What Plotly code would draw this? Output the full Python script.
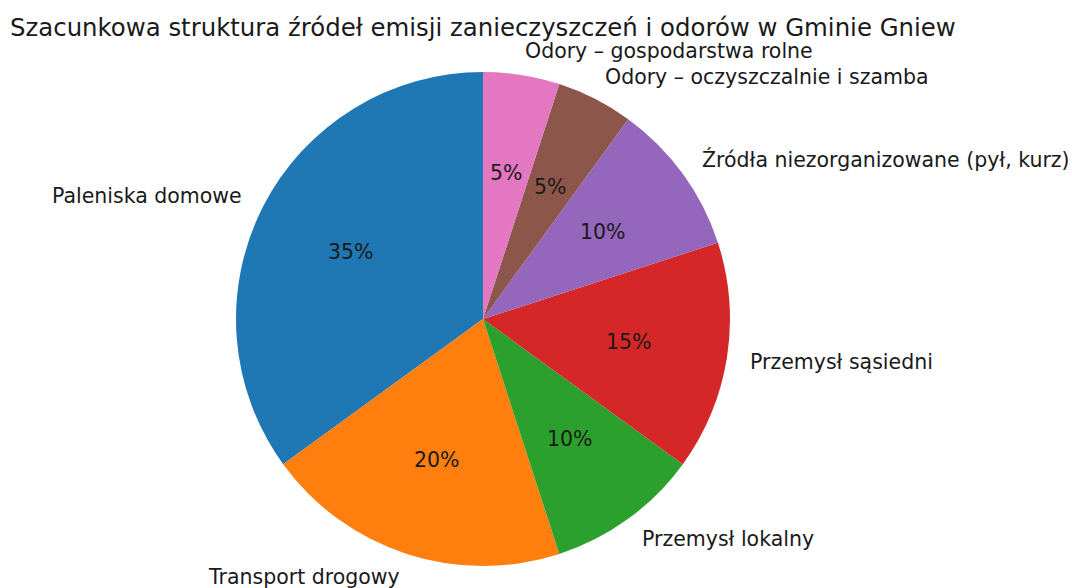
import math
import plotly.graph_objects as go

labels = ["Paleniska domowe", "Transport drogowy", "Przemysł lokalny", "Przemysł sąsiedni",
          "Źródła niezorganizowane (pył, kurz)", "Odory – oczyszczalnie i szamba",
          "Odory – gospodarstwa rolne"]
values = [35, 20, 10, 15, 10, 5, 5]
colors = ["#1f77b4", "#ff7f0e", "#2ca02c", "#d62728", "#9467bd", "#8c564b", "#e377c2"]
title_text = "Szacunkowa struktura źródeł emisji zanieczyszczeń i odorów w Gminie Gniew"

W, H = 1072, 588
cx, cy, R = 483, 319, 247  # pie center and radius in figure pixels
FONT = "DejaVu Sans"
TXT = "#1a1a1a"
total = sum(values)

fig = go.Figure()
fig.add_trace(go.Pie(
    labels=labels, values=values, sort=False, direction="counterclockwise",
    rotation=-360 * values[0] / total,
    marker=dict(colors=colors, line=dict(width=0)), textinfo="none", hoverinfo="label+percent",
    showlegend=False,
    domain=dict(x=[(cx - R) / W, (cx + R) / W], y=[1 - (cy + R) / H, 1 - (cy - R) / H]),
))

annotations = []
cum = 0
for lab, v in zip(labels, values):
    theta = math.radians(90 + 360 * (cum + v / 2) / total)
    cum += v
    px, py = 0.6 * math.cos(theta), 0.6 * math.sin(theta)
    annotations.append(dict(x=px, y=py, xref="x", yref="y", text=f"{v / total * 100:.0f}%",
                            showarrow=False, xanchor="center", yanchor="middle",
                            font=dict(family=FONT, size=20.5, color=TXT)))
    lx, ly = 1.1 * math.cos(theta), 1.1 * math.sin(theta)
    right = lx > 0
    annotations.append(dict(x=lx, y=ly, xref="x", yref="y", text=lab, showarrow=False,
                            xanchor="left" if right else "right", yanchor="middle",
                            xshift=-3 if right else 3,
                            font=dict(family=FONT, size=20.5, color=TXT)))

annotations.append(dict(x=0, y=(cy - 27) / R, xref="x", yref="y", text=title_text,
                        showarrow=False, xanchor="center", yanchor="middle",
                        font=dict(family=FONT, size=24.4, color=TXT)))

fig.update_layout(
    width=W, height=H, margin=dict(l=0, r=0, t=0, b=0),
    paper_bgcolor="white", plot_bgcolor="rgba(0,0,0,0)",
    xaxis=dict(range=[-cx / R, (W - cx) / R], visible=False, domain=[0, 1], fixedrange=True),
    yaxis=dict(range=[(cy - H) / R, cy / R], visible=False, domain=[0, 1], fixedrange=True),
    annotations=annotations,
)
fig.write_html("out.html", config={"displayModeBar": False},
               post_script="document.body.style.margin='0';document.body.style.overflow='hidden';")
